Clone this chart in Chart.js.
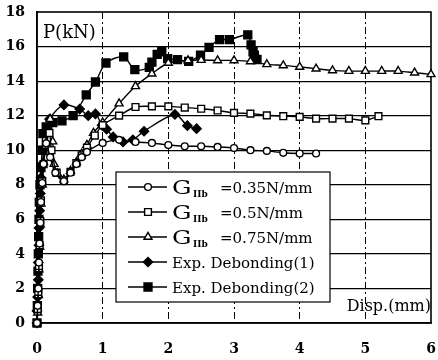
<!DOCTYPE html>
<html>
<head>
<meta charset="utf-8">
<script src="https://cdn.jsdelivr.net/npm/chart.js@4.4.1/dist/chart.umd.min.js"></script>
<style>
  html, body { margin: 0; padding: 0; background: #fff; }
  #wrap { width: 438px; height: 360px; }
</style>
</head>
<body>
<div id="wrap"><canvas id="c" width="438" height="360"></canvas></div>
<script>
// values
var xTicks = [0, 1, 2, 3, 4, 5, 6];
var yTicks = [0, 2, 4, 6, 8, 10, 12, 14, 16, 18];

var g035X = [0, 0.01, 0.02, 0.03, 0.04, 0.05, 0.06, 0.08, 0.1, 0.14, 0.2, 0.28, 0.41, 0.51, 0.6, 0.68, 0.76, 1.0, 1.25, 1.5, 1.75, 2.0, 2.25, 2.5, 2.75, 3.0, 3.25, 3.5, 3.75, 4.0, 4.25];
var g035Y = [0, 1, 2, 3.5, 4.6, 5.8, 7, 8.1, 9.2, 10.4, 9.6, 8.7, 8.2, 8.7, 9.2, 9.6, 9.9, 10.42, 10.6, 10.48, 10.42, 10.3, 10.23, 10.23, 10.19, 10.13, 10.0, 9.96, 9.85, 9.81, 9.81];

var g05X = [0, 0.01, 0.02, 0.03, 0.04, 0.05, 0.06, 0.08, 0.1, 0.14, 0.19, 0.22, 0.3, 0.41, 0.51, 0.6, 0.68, 0.76, 0.88, 1.0, 1.25, 1.5, 1.75, 2.0, 2.25, 2.5, 2.75, 3.0, 3.25, 3.5, 3.75, 4.0, 4.25, 4.5, 4.75, 5.0, 5.2];
var g05Y = [0, 0.8, 1.8, 3.3, 4.5, 5.9, 7.1, 8.2, 9.2, 10.3, 11.0, 10.0, 8.7, 8.25, 8.75, 9.25, 9.7, 10.15, 10.85, 11.45, 12.0, 12.5, 12.54, 12.54, 12.47, 12.4, 12.3, 12.16, 12.12, 12.02, 11.97, 11.93, 11.83, 11.83, 11.83, 11.73, 11.97];

var g075X = [0, 0.01, 0.02, 0.03, 0.04, 0.05, 0.06, 0.08, 0.1, 0.14, 0.2, 0.24, 0.26, 0.31, 0.41, 0.51, 0.6, 0.68, 0.76, 0.86, 1.0, 1.25, 1.5, 1.75, 2.0, 2.3, 2.5, 2.75, 3.0, 3.25, 3.5, 3.75, 4.0, 4.25, 4.5, 4.75, 5.0, 5.25, 5.5, 5.75, 6.0];
var g075Y = [0, 0.6, 1.6, 3.1, 4.4, 5.7, 6.9, 8.0, 9.3, 10.3, 11.8, 10.5, 9.2, 8.65, 8.3, 8.8, 9.3, 9.8, 10.3, 11.0, 11.6, 12.7, 13.7, 14.43, 15.05, 15.2, 15.22, 15.2, 15.2, 15.14, 14.97, 14.91, 14.82, 14.72, 14.62, 14.58, 14.58, 14.58, 14.58, 14.49, 14.39];

var exp1X = [0, 0, 0.01, 0.02, 0.02, 0.03, 0.03, 0.04, 0.05, 0.06, 0.08, 0.11, 0.15, 0.19, 0.41, 0.65, 0.78, 0.89, 0.99, 1.06, 1.16, 1.31, 1.46, 1.63, 2.1, 2.29, 2.43];
var exp1Y = [0, 0.7, 1.5, 2.5, 3.5, 4.5, 5.5, 6.5, 7.5, 8.4, 9.2, 10.1, 11.0, 11.8, 12.62, 12.38, 12.0, 12.1, 11.45, 11.22, 10.77, 10.48, 10.6, 11.1, 12.07, 11.42, 11.25];

var exp2X = [0, 0.005, 0.01, 0.015, 0.02, 0.025, 0.03, 0.035, 0.045, 0.06, 0.08, 0.09, 0.14, 0.24, 0.38, 0.55, 0.75, 0.89, 1.05, 1.32, 1.49, 1.71, 1.75, 1.83, 1.9, 1.99, 2.14, 2.31, 2.49, 2.62, 2.78, 2.93, 3.21, 3.26, 3.29, 3.31, 3.35];
var exp2Y = [0, 1, 2, 3, 4, 5, 6, 7, 8, 9, 10, 10.96, 11.35, 11.6, 11.7, 12.0, 13.2, 13.95, 15.05, 15.4, 14.66, 14.8, 15.1, 15.55, 15.7, 15.3, 15.24, 15.14, 15.5, 15.95, 16.4, 16.4, 16.68, 16.1, 15.7, 15.5, 15.25];

var legendNames = ['=0.35N/mm', '=0.5N/mm', '=0.75N/mm', 'Exp. Debonding(1)', 'Exp. Debonding(2)'];

function pts(xs, ys) {
  var out = [];
  for (var i = 0; i < xs.length; i++) out.push({x: xs[i], y: ys[i]});
  return out;
}

function series(xs, ys, style, radius, filled) {
  return {
    data: pts(xs, ys),
    showLine: true,
    borderColor: '#000',
    borderWidth: 1.4,
    tension: 0.3,
    pointStyle: style,
    pointRadius: radius,
    pointBorderWidth: 1.4,
    pointBorderColor: '#000',
    pointBackgroundColor: filled ? '#000' : '#fff',
    clip: false
  };
}

var sets = [
  series(g035X, g035Y, 'circle', 3.4, false),
  series(g05X, g05Y, 'rect', 4.8, false),
  series(g075X, g075Y, 'triangle', 4.6, false),
  series(exp1X, exp1Y, 'rectRot', 4.6, true),
  series(exp2X, exp2Y, 'rect', 5.6, true)
];

var legendPlugin = {
  id: 'frame',
  beforeDatasetsDraw: function (chart) {
    var a = chart.chartArea, ctx = chart.ctx;
    ctx.save();
    ctx.strokeStyle = '#000';
    ctx.lineWidth = 1.6;
    ctx.strokeRect(a.left, a.top, a.right - a.left, a.bottom - a.top);
    ctx.restore();
  },
  afterDatasetsDraw: function (chart) {
    var ctx = chart.ctx;
    ctx.save();
    // axis captions
    ctx.fillStyle = '#000';
    ctx.font = '18px "DejaVu Serif"';
    ctx.textBaseline = 'alphabetic';
    ctx.textAlign = 'left';
    ctx.fillText('P(kN)', 43, 38);
    ctx.font = '16px "DejaVu Serif"';
    ctx.textAlign = 'right';
    ctx.fillText('Disp.(mm)', 431, 311);

    // legend box
    var L = 116, T = 172, R = 330, B = 302;
    ctx.fillStyle = '#fff';
    ctx.fillRect(L, T, R - L, B - T);
    ctx.strokeStyle = '#000';
    ctx.lineWidth = 1.2;
    ctx.strokeRect(L, T, R - L, B - T);

    var rows = [187, 212, 237, 262, 287];
    for (var i = 0; i < rows.length; i++) {
      var y = rows[i];
      var ds = sets[i];
      ctx.strokeStyle = '#000';
      ctx.lineWidth = 1.4;
      ctx.beginPath();
      ctx.moveTo(128, y);
      ctx.lineTo(167, y);
      ctx.stroke();
      ctx.fillStyle = ds.pointBackgroundColor;
      Chart.helpers.drawPoint(ctx, {
        pointStyle: ds.pointStyle, radius: ds.pointRadius, rotation: 0, borderWidth: 1.4
      }, 148, y);
      ctx.fillStyle = '#000';
      ctx.textAlign = 'left';
      if (i < 3) {
        ctx.save();
        ctx.translate(172, y + 7);
        ctx.scale(1.35, 1);
        ctx.font = '18px "DejaVu Serif"';
        ctx.fillText('G', 0, 0);
        ctx.restore();
        ctx.font = 'bold 9px "DejaVu Serif"';
        ctx.fillText('IIb', 193, y + 10);
        ctx.font = '15px "DejaVu Serif"';
        ctx.fillText(legendNames[i], 220, y + 6);
      } else {
        ctx.font = '15px "DejaVu Serif"';
        ctx.fillText(legendNames[i], 172, y + 6);
      }
    }
    ctx.restore();
  }
};

new Chart(document.getElementById('c'), {
  type: 'scatter',
  data: { datasets: sets },
  options: {
    responsive: false,
    devicePixelRatio: 1,
    animation: false,
    layout: { padding: { top: 12, right: 1, left: 0, bottom: 0 } },
    plugins: { legend: { display: false }, tooltip: { enabled: false } },
    scales: {
      x: {
        type: 'linear',
        min: 0, max: 6,
        afterBuildTicks: function (s) { s.ticks = xTicks.map(function (v) { return {value: v}; }); },
        afterFit: function (s) { s.height = 37; s.paddingLeft = 0; s.paddingRight = 0; },
        ticks: { color: '#000', padding: 18, font: { family: 'DejaVu Serif', size: 14, weight: 'bold' } },
        grid: {
          drawTicks: false,
          lineWidth: 1,
          color: function (c) { return (c.tick && (c.tick.value == 0 || c.tick.value == 6)) ? 'rgba(0,0,0,0)' : '#000'; }
        },
        border: { display: true, color: '#000', width: 1.6, dash: [7, 3, 2, 3] }
      },
      y: {
        type: 'linear',
        min: 0, max: 18,
        afterBuildTicks: function (s) { s.ticks = yTicks.map(function (v) { return {value: v}; }); },
        afterFit: function (s) { s.width = 37; s.paddingTop = 0; s.paddingBottom = 0; },
        ticks: { color: '#000', padding: 12, font: { family: 'DejaVu Serif', size: 14, weight: 'bold' } },
        grid: {
          drawTicks: false,
          lineWidth: 1.2,
          color: function (c) { return (c.tick && (c.tick.value == 0 || c.tick.value == 18)) ? 'rgba(0,0,0,0)' : '#000'; }
        },
        border: { display: true, color: '#000', width: 1.6 }
      }
    }
  },
  plugins: [legendPlugin]
});
</script>
</body>
</html>
